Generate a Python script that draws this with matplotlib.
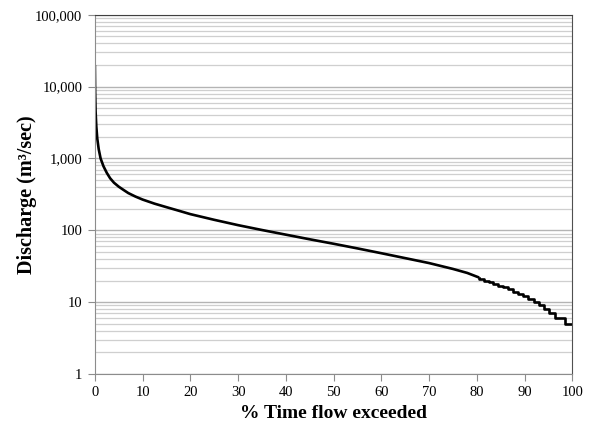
import matplotlib
matplotlib.use("Agg")
import matplotlib.pyplot as plt
from matplotlib.ticker import FuncFormatter, LogLocator, NullFormatter

# smooth upper part of the flow-duration curve
pct_smooth = [0, 0.05, 0.15, 0.3, 0.5, 0.8, 1.2, 1.8, 2.5, 3.2, 4, 5, 6, 7,
              8.5, 10, 12.5, 15, 17.5, 20, 25, 30, 35, 40, 45, 50, 55, 60,
              65, 70, 75, 78, 80.5]
q_smooth = [20000, 9000, 4500, 2800, 1900, 1350, 1000, 780, 630, 530, 460,
            405, 365, 330, 295, 268, 235, 210, 188, 168, 140, 118, 101, 87,
            75, 65, 56, 48, 41, 35, 29, 25.5, 22]

# stepped tail: integer discharge levels and where each one ends
pct_steps = [80.5, 81.5, 82.5, 83.5, 84.5, 85.5, 86.5, 87.5, 88.6, 89.7,
             90.8, 91.9, 93.0, 94.1, 95.2, 96.3, 97.4, 98.5, 100]
q_steps = [22, 21, 20, 19, 18, 17, 16, 15, 14, 13, 12, 11, 10, 9, 8, 7, 6,
           6, 5]

fig = plt.figure(figsize=(5.93, 4.24), dpi=100)
ax = fig.add_axes([0.160, 0.118, 0.805, 0.847])

ax.plot(pct_smooth, q_smooth, color="black", lw=1.9, solid_capstyle="butt")
ax.step(pct_steps, q_steps, where="pre", color="black", lw=1.9)

ax.set_yscale("log")
ax.set_ylim(1, 100000)
ax.set_xlim(0, 100)
ax.set_xticks(range(0, 101, 10))
ax.yaxis.set_major_locator(LogLocator(base=10, numticks=10))
ax.yaxis.set_minor_locator(LogLocator(base=10, subs=range(2, 10), numticks=20))
ax.yaxis.set_minor_formatter(NullFormatter())
ax.yaxis.set_major_formatter(FuncFormatter(lambda v, p: f"{v:,.0f}"))

ax.grid(True, axis="y", which="minor", color="#cfcfcf", lw=0.9)
ax.grid(True, axis="y", which="major", color="#b4b4b4", lw=1.0)
ax.set_axisbelow(True)

for side in ["left", "bottom"]:
    ax.spines[side].set_color("#8c8c8c")
ax.spines["top"].set_color("#404040")
ax.spines["right"].set_color("#505050")
ax.tick_params(axis="both", which="major", direction="out", length=5,
               color="#8c8c8c", labelsize=10.5, pad=4)
ax.tick_params(axis="y", which="minor", length=0)
for lab in ax.get_xticklabels() + ax.get_yticklabels():
    lab.set_fontfamily("Liberation Serif")

ax.set_xlabel("% Time flow exceeded", fontfamily="Liberation Serif",
              fontweight="bold", fontsize=14, va="center")
ax.set_ylabel("Discharge (m³/sec)", fontfamily="Liberation Serif",
              fontweight="bold", fontsize=14.5, va="center")
ax.xaxis.set_label_coords(0.5, -0.109)
ax.yaxis.set_label_coords(-0.143, 0.5)

fig.savefig("out.png", dpi=100)
